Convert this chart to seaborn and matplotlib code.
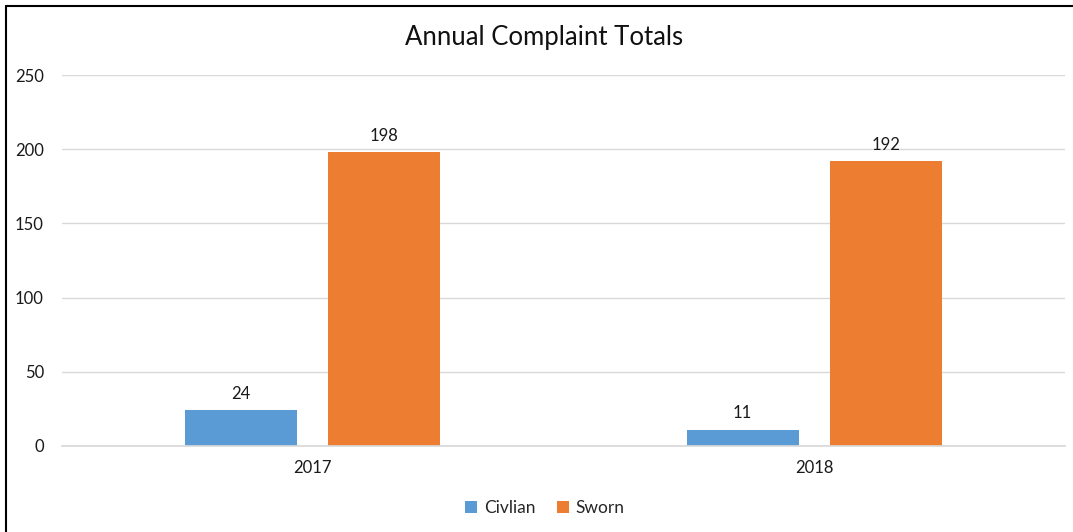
import matplotlib
matplotlib.use("Agg")
import matplotlib.pyplot as plt
import seaborn as sns
import pandas as pd
from matplotlib.lines import Line2D
from matplotlib.patches import Patch

years = ["2017", "2018"]
civilian = [24, 11]
sworn = [198, 192]
series_names = ["Civlian", "Sworn"]
colors = ["#5B9BD5", "#ED7D31"]
yticks = [0, 50, 100, 150, 200, 250]

df = pd.DataFrame({
    "Year": years * 2,
    "Type": [series_names[0]] * len(years) + [series_names[1]] * len(years),
    "Count": civilian + sworn,
})

sns.set_theme(style="white")
plt.rcParams["font.family"] = ["Lato", "DejaVu Sans"]

W, H = 1073, 532
fig = plt.figure(figsize=(W / 100, H / 100), dpi=100)
ax = fig.add_axes([62 / W, 1 - 446 / H, (1065 - 62) / W, (446 - 75) / H])

sns.barplot(data=df, x="Year", y="Count", hue="Type", palette=colors,
            width=0.571, gap=0.216, ax=ax, legend=False, saturation=1,
            linewidth=0, edgecolor="none")

ax.set_ylim(0, 250)
ax.set_xlim(-0.5, 1.5)
ax.set_yticks(yticks)
ax.yaxis.grid(True, color="#d9d9d9", linewidth=1)
ax.set_axisbelow(True)
for s in ["top", "right", "left"]:
    ax.spines[s].set_visible(False)
ax.spines["bottom"].set_color("#d9d9d9")
ax.set_xlabel("")
ax.set_ylabel("")
ax.tick_params(axis="y", length=0, pad=13, labelsize=12, labelcolor="#1a1a1a")
ax.tick_params(axis="x", length=0, pad=10, labelsize=12, labelcolor="#1a1a1a")

for cont in ax.containers:
    ax.bar_label(cont, padding=6, fontsize=12, color="#1a1a1a")

fig.text(544 / W, 1 - 38 / H, "Annual Complaint Totals", ha="center", va="center",
         fontsize=18.5, color="#111111")

handles = [Patch(facecolor=c, edgecolor="none") for c in colors]
fig.legend(handles, series_names, loc="center", bbox_to_anchor=(545 / W, 1 - 508 / H),
           ncol=2, frameon=False, fontsize=12.5, handlelength=0.7, handleheight=0.7,
           columnspacing=1.2, handletextpad=0.4)

# border lines (left and top)
fig.add_artist(Line2D([6 / W, 6 / W], [0, 1 - 6 / H], color="black", linewidth=1.5,
                      transform=fig.transFigure))
fig.add_artist(Line2D([6 / W, 1], [1 - 6 / H, 1 - 6 / H], color="black", linewidth=1.5,
                      transform=fig.transFigure))

fig.savefig("out.png", dpi=100)
